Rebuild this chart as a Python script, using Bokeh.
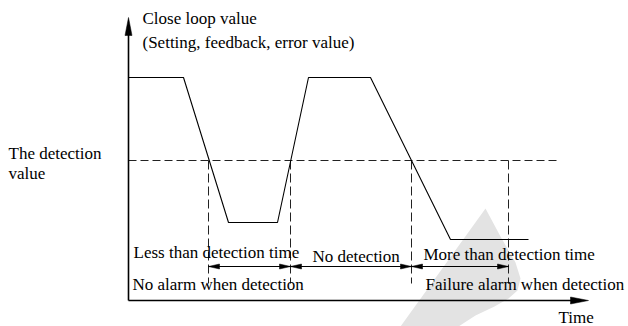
from bokeh.plotting import figure
from bokeh.models import Range1d
from bokeh.core.properties import value
from bokeh.embed import file_html
from bokeh.resources import INLINE

# ---- chart data (time from origin, close-loop value) ----
curve_time = [0, 55, 100, 149, 180, 242, 322, 400]
curve_value = [223, 223, 78, 78, 223, 223, 61, 61]
detection_value = 140
detection_line_end = 429
check_times = [80, 162, 283, 380]
check_bottom = 17
interval_value = 34
axis_time_max = 460
axis_value_max = 283

axis_labels = ["Close loop value", "(Setting, feedback, error value)", "Time"]
axis_label_x = [14, 14, 430]
axis_label_y = [282, 258, -17]

level_labels = ["The detection", "value"]
level_label_x = [-120, -120]
level_label_y = [147, 127]

interval_labels = ["Less than detection time", "No detection", "More than detection time",
                   "No alarm when detection", "Failure alarm when detection"]
interval_label_x = [5, 184, 295, 4, 297]
interval_label_y = [48, 44, 46, 16, 16]

watermark_x = [357, 372, 387, 392, 389, 380, 366, 347, 330, 272]
watermark_y = [92, 64, 38, 22, 10, 2, -6, -15, -26, -26]

FONT = value("Liberation Serif")


def head(tx, ty, dx, dy, length, half):
    bx, by = tx - dx * length, ty - dy * length
    px, py = -dy * half, dx * half
    return [tx, bx + px, bx - px], [ty, by + py, by - py]


p = figure(width=628, height=326, output_backend="svg", toolbar_location=None,
           x_range=Range1d(-128, 500), y_range=Range1d(-26, 300), min_border=0)
p.axis.visible = False
p.grid.visible = False
p.outline_line_color = None
p.background_fill_color = "white"

# watermark
p.patch(watermark_x, watermark_y, fill_color="#e3e3e3", line_color=None)

# detection level (dashed)
p.line([0, detection_line_end], [detection_value, detection_value],
       line_color="#222222", line_width=1, line_dash="8 4")
for t in check_times:
    p.line([t, t], [detection_value, check_bottom], line_color="#222222",
           line_width=1, line_dash="9 4")

# curve
p.line(curve_time, curve_value, line_color="black", line_width=1.1)

# axes
p.line([0, 0], [0, axis_value_max - 10], line_color="black", line_width=1.6)
p.line([0, axis_time_max - 10], [0, 0], line_color="black", line_width=1.6)
hxs, hys = [], []
hx, hy = head(0, axis_value_max, 0, 1, 18, 3.5)
hxs.append(hx); hys.append(hy)
hx, hy = head(axis_time_max, 0, 1, 0, 18, 3.5)
hxs.append(hx); hys.append(hy)

# interval arrows
for a, b in zip(check_times[:-1], check_times[1:]):
    p.line([a, b], [interval_value, interval_value], line_color="black", line_width=1)
    hx, hy = head(a, interval_value, -1, 0, 11, 2.5)
    hxs.append(hx); hys.append(hy)
    hx, hy = head(b, interval_value, 1, 0, 11, 2.5)
    hxs.append(hx); hys.append(hy)
p.patches(hxs, hys, fill_color="black", line_color="black", line_width=0.5)

# texts
for xs, ys, ts in [(axis_label_x, axis_label_y, axis_labels),
                   (level_label_x, level_label_y, level_labels),
                   (interval_label_x, interval_label_y, interval_labels)]:
    p.text(x=xs, y=ys, text=ts, text_font=FONT, text_font_size="17px",
           text_color="black", text_align="left", text_baseline="middle")

open("out.html", "w").write(file_html(p, INLINE))
